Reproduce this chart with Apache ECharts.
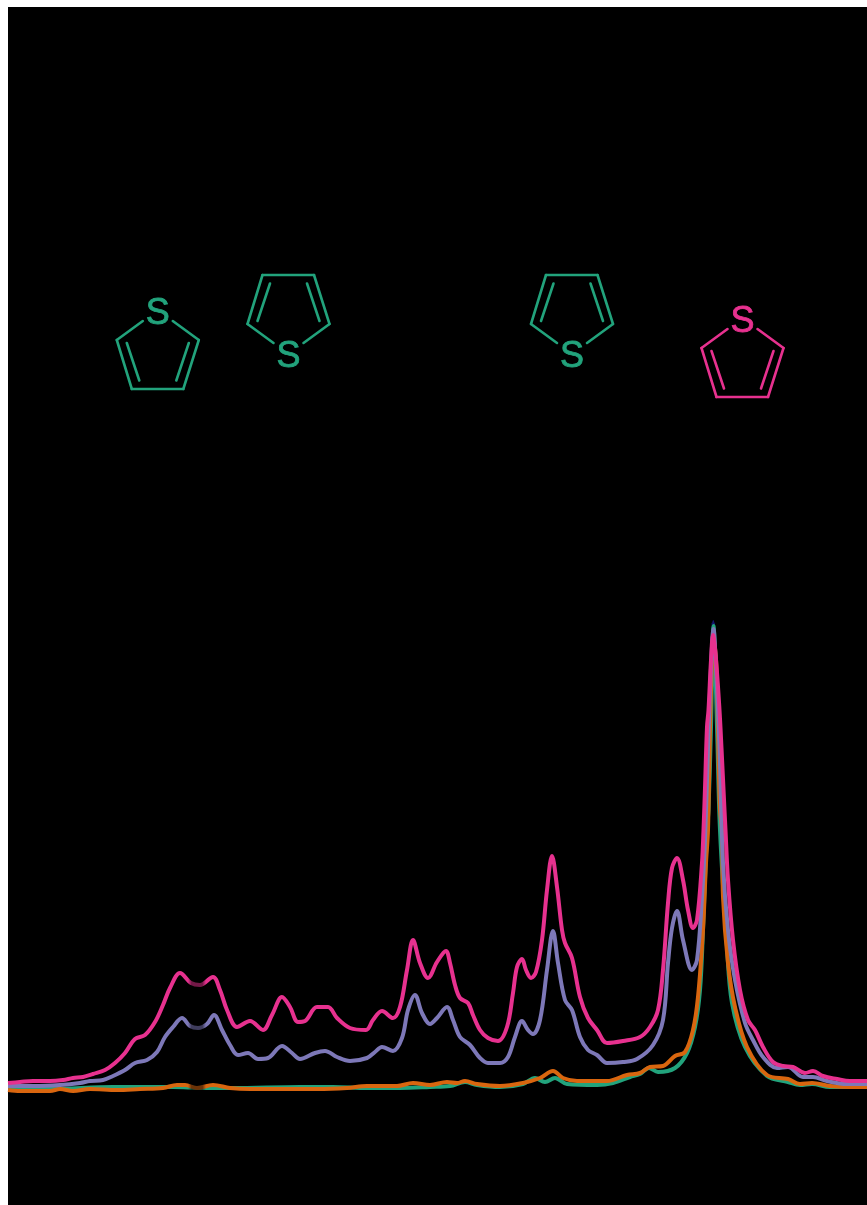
<!DOCTYPE html>
<html><head><meta charset="utf-8">
<style>html,body{margin:0;padding:0;background:#fff}#c{width:867px;height:1205px}</style>
<script src="https://cdn.jsdelivr.net/npm/echarts@6/dist/echarts.min.js"></script>
</head><body><div id="c"></div>
<script>
const pinkX=[8,20,33,50,63,73,83,93,105,115,125,135,145,155,163,170,180,191,200,213,220,227,237,250,263,272,282,290,298,305,317,328,337,350,366,373,382,393,400,407,413,420,428,437,446,450,455,460,468,473,480,488,498,507,513,517,522,526,531,536,542,547,552,557,562,565,572,580,588,597,607,623,640,650,658,663,668,672,677,683,688,693,697,702,703.5,705,707,708.5,711,713,716,719.5,721.5,724.5,725.5,728,733,740,748,755,763,773,783,793,805,813,823,837,850,867];
const pinkY=[5,6,7,7,8,10,11,14,18,25,35,49,53,66,83,100,115,105,103,111,98,78,61,67,58,73,91,81,66,67,81,81,70,60,58,68,77,70,81,118,148,125,110,126,137,125,103,90,85,73,58,50,47,61,95,121,129,118,110,116,148,198,232,201,158,145,130,91,70,58,45,47,51,61,78,118,185,220,230,208,178,160,168,225,258,300,361,378,428,453,428,378,340,278,258,208,148,98,68,58,41,26,22,21,15,17,12,9,7,7];
const purpleX=[8,33,60,80,90,103,113,125,135,147,157,165,173,182,190,198,207,214,222,230,238,248,258,268,282,292,300,315,325,337,350,367,375,382,393,402,408,415,422,430,437,447,453,460,470,480,488,500,508,515,522,528,533,540,547,553,558,565,572,580,588,597,607,623,637,653,663,668,672,677,683,692,697,702,705,708,711,713.5,716,719.5,723,728,735,745,753,763,777,788,803,813,827,847,867];
const purpleY=[2,2,3,5,7,8,12,18,25,28,36,51,61,70,62,60,64,73,58,43,33,35,29,30,42,35,29,35,37,31,27,30,36,41,37,50,78,93,75,64,70,81,68,51,43,30,25,25,31,51,67,58,54,68,118,157,125,88,78,51,38,33,25,26,29,43,68,125,160,177,148,118,128,191,248,340,420,459,420,340,225,158,108,65,48,31,20,21,11,11,7,4,4];
const orangeX=[8,20,50,60,73,90,117,140,163,177,185,197,213,230,250,283,317,347,367,397,413,430,447,457,465,477,500,523,540,553,563,577,607,627,640,650,663,675,685,693,698,703,706,708,711,714,716.5,718,720,722,723,728,735,747,767,788,800,812,830,850,867];
const orangeY=[-2,-3,-3,-1,-3,-1,-2,-1,0,3,3,0,3,0,-1,-1,-1,0,2,2,5,3,6,5,7,4,2,5,10,17,10,7,7,13,15,21,22,32,36,58,91,158,225,258,400,448,420,361,278,258,191,125,81,41,13,9,4,5,2,1,1];
const greenX=[8,50,113,143,173,203,233,300,333,367,400,430,450,465,477,500,523,535,545,555,567,597,613,630,640,649,658,675,687,695,700,703,707,708.5,711,713.5,717,720,727,732,745,767,788,800,812,830,867];
const greenY=[-1,-1,1,1,1,0,0,1,1,0,0,1,2,6,3,1,4,10,6,10,4,3,5,11,14,20,16,20,35,61,98,158,258,278,361,462,361,258,141,85,41,12,6,3,4,1,1];
const tipX=[711.5,713.3,715];
const tipY=[420,466,420];
const seriesNames=['tip','green','orange','purple','pink'];
const molecules=[
  {x:157.8,y:748,up:true,label:-26,color:'#22a37c'},
  {x:288.5,y:764,up:false,label:33,color:'#22a37c'},
  {x:572,y:764,up:false,label:33,color:'#22a37c'},
  {x:742.5,y:740,up:true,label:-26,color:'#e7318f'}
];
const band=[[188,206]];
const zip=(a,b)=>a.map((v,i)=>[v,b[i]]);
function line(name,x,y,color){
  return {name,type:'line',data:zip(x,y),smooth:0.35,showSymbol:false,symbol:'none',
    lineStyle:{color,width:4,join:'round'},silent:true,animation:false};
}
function mol(params,api){
  const d=molecules[params.dataIndex];
  const c=api.coord([d.x,d.y]);
  const s=d.up?1:-1;
  const st={stroke:d.color,lineWidth:2.6,lineCap:'round',fill:null};
  const seg=(a,b,e,f)=>({type:'line',shape:{x1:c[0]+a,y1:c[1]+s*b,x2:c[0]+e,y2:c[1]+s*f},style:st});
  return {type:'group',children:[
    seg(-41,0,-26,49),seg(-26,49,25.5,49),seg(25.5,49,41,0),
    seg(-41,0,-15,-19),seg(41,0,15,-19),
    seg(-31,3,-18.5,40.5),seg(31,3,18.5,40.5),
    {type:'text',style:{x:c[0],y:c[1]+d.label,text:'S',fill:d.color,stroke:d.color,lineWidth:0.8,font:'36px "Liberation Sans"',align:'center',verticalAlign:'middle'}}
  ]};
}
function dim(params,api){
  const a=api.coord([api.value(0),1081]),b=api.coord([api.value(1),-117]);
  return {type:'rect',shape:{x:a[0],y:a[1],width:b[0]-a[0],height:b[1]-a[1]},
    style:{fill:{type:'linear',x:0,y:0,x2:1,y2:0,colorStops:[
      {offset:0,color:'rgba(0,0,0,0)'},{offset:.2,color:'rgba(0,0,0,.5)'},
      {offset:.8,color:'rgba(0,0,0,.5)'},{offset:1,color:'rgba(0,0,0,0)'}]}}};
}
const chart=echarts.init(document.getElementById('c'),null,{renderer:'canvas'});
chart.setOption({
  animation:false,backgroundColor:'#ffffff',
  grid:{left:8,right:0,top:7,bottom:0,show:true,backgroundColor:'#000000',borderWidth:0},
  xAxis:{type:'value',min:8,max:867,show:false},
  yAxis:{type:'value',min:-117,max:1081,show:false},
  series:[
    line(seriesNames[0],tipX,tipY,'#14146e'),
    line(seriesNames[1],greenX,greenY,'#22a37c'),
    line(seriesNames[2],orangeX,orangeY,'#d9660f'),
    line(seriesNames[3],purpleX,purpleY,'#7d78b8'),
    line(seriesNames[4],pinkX,pinkY,'#e7318f'),
    {type:'custom',data:band,renderItem:dim,silent:true,z:5,clip:true,encode:{x:[0,1]}},
    {type:'custom',data:molecules.map(m=>[m.x,m.y]),renderItem:mol,silent:true,z:6,clip:false}
  ]
});
</script></body></html>
